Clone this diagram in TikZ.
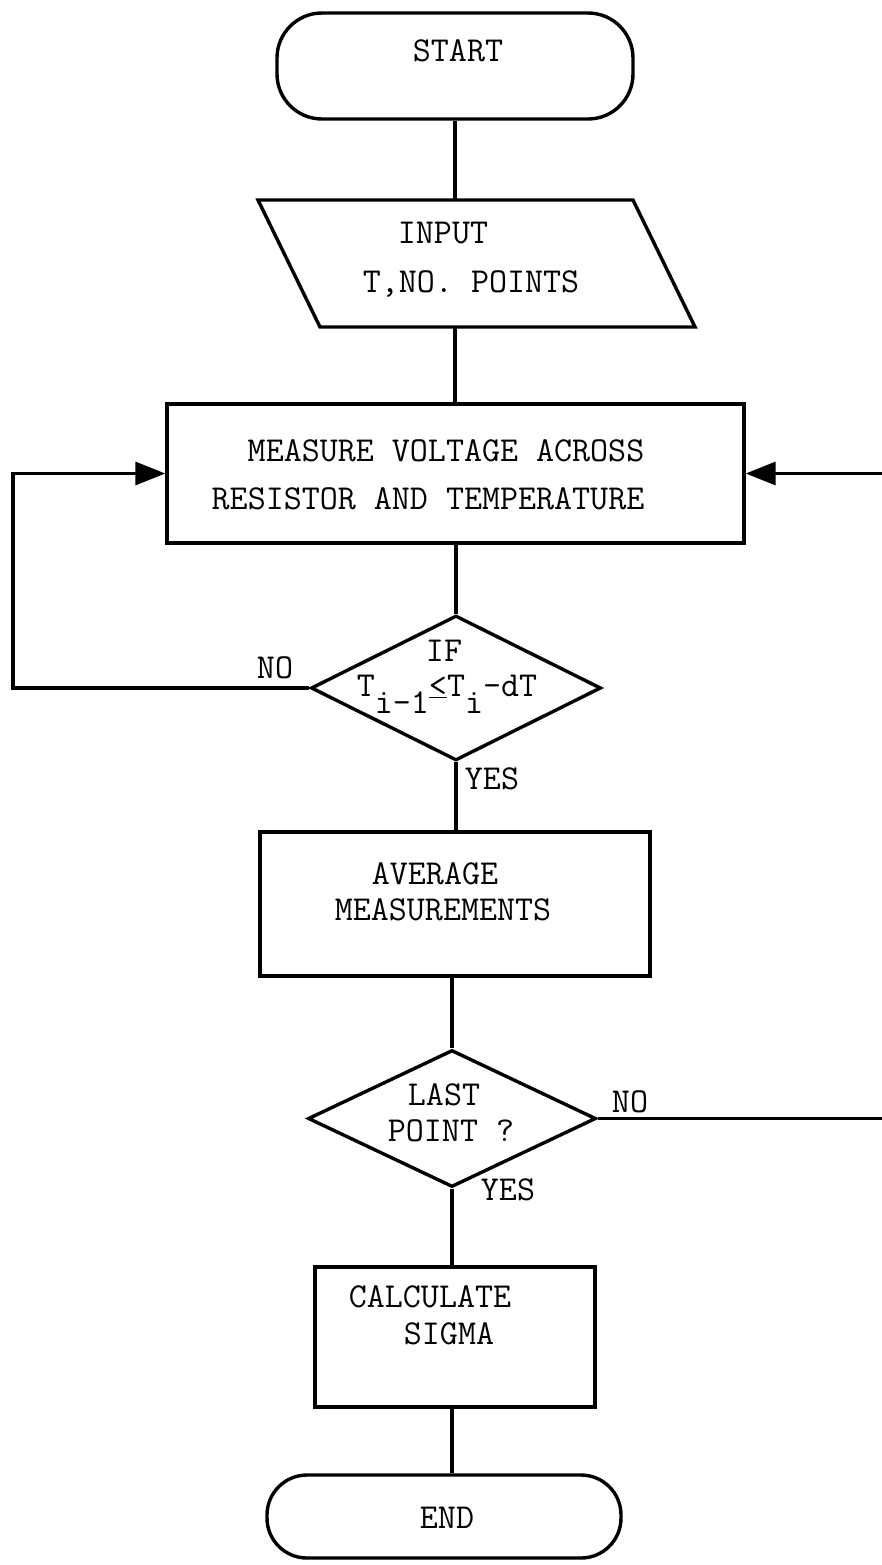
\documentclass[tikz,border=0pt]{standalone}
\usetikzlibrary{shapes.geometric,arrows.meta}
\newcommand\twfont{\fontsize{35}{35}\selectfont\ttfamily}
\tikzset{
  boxshape/.style={draw, rectangle, line width=3.4pt, inner sep=0pt},
  termshape/.style={draw, rectangle, line width=3.4pt, rounded corners=45pt, inner sep=0pt},
  decshape/.style={draw, diamond, line width=3.4pt, inner sep=0pt},
  lbl/.style={font=\twfont, inner sep=0pt, anchor=base, text height=22pt, text depth=2pt},
  conn/.style={line width=3.4pt},
  arr/.style={conn, -{Triangle[length=30pt,width=23pt]}}
}
\begin{document}
\begin{tikzpicture}[x=1pt,y=-1pt]
\fill[white] (0,0) rectangle (882,1565);
\useasboundingbox (0,0) rectangle (882,1565);

% START
\node[termshape, minimum width=356pt, minimum height=106pt] (start) at (455,66) {};
\node[lbl] (startT) at (458,62) {START};

% INPUT parallelogram
\draw[line width=3.4pt] (258,200) -- (633,200) -- (695,327) -- (320,327) -- cycle;
\coordinate (inN) at (455,200);
\coordinate (inS) at (455,327);
\node[lbl] (inT1) at (443,243) {INPUT};
\node[lbl] (inT2) at (471,292) {T,NO. POINTS};

% MEASURE
\node[boxshape, minimum width=577pt, minimum height=139pt] (meas) at (455.5,473.5) {};
\node[lbl] (m1) at (446,461) {MEASURE VOLTAGE ACROSS};
\node[lbl] (m2) at (428,509) {RESISTOR AND TEMPERATURE};

% decision 1
\node[decshape, minimum width=290pt, minimum height=145pt] (d1) at (456,688) {};
\node[lbl] (d1a) at (444,661) {IF};
\node[lbl] (d1b) at (447,696) {T\raisebox{-17pt}{i-1}\underline{<}T\raisebox{-17pt}{i}-dT};
\node[lbl] (no1) at (275,678) {NO};
\node[lbl] (yes1) at (492,789) {YES};

% AVERAGE
\node[boxshape, minimum width=390pt, minimum height=144pt] (avg) at (455,904) {};
\node[lbl] (a1) at (435,884) {AVERAGE};
\node[lbl] (a2) at (443,920) {MEASUREMENTS};

% decision 2
\node[decshape, minimum width=288pt, minimum height=137pt] (d2) at (452,1118.5) {};
\node[lbl] (d2a) at (444,1105) {LAST};
\node[lbl] (d2b) at (451,1141) {POINT ?};
\node[lbl] (no2) at (630,1112) {NO};
\node[lbl] (yes2) at (508,1200) {YES};

% CALCULATE
\node[boxshape, minimum width=280pt, minimum height=140pt] (calc) at (455,1337) {};
\node[lbl] (c1) at (430,1307) {CALCULATE};
\node[lbl] (c2) at (449,1344) {SIGMA};

% END
\node[termshape, rounded corners=40pt, minimum width=354pt, minimum height=83pt] (end) at (444,1516.5) {};
\node[lbl] (e1) at (447,1528) {END};

% connectors
\draw[conn] (start.south) -- (inN);
\draw[conn] (inS) -- (inS |- meas.north);
\draw[conn] (meas.south -| d1.north) -- (d1.north);
\draw[conn] (d1.south) -- (d1.south |- avg.north);
\draw[conn] (d2.north |- avg.south) -- (d2.north);
\draw[conn] (d2.south) -- (d2.south |- calc.north);
\draw[conn] (d2.south |- calc.south) -- (d2.south |- end.north);
\coordinate (lt) at (13,0);
\coordinate (rt) at (893,0);
\draw[arr] (d1.west) -- (d1.west -| lt) |- (meas.west);
\draw[arr] (d2.east) -- (d2.east -| rt) |- (meas.east);
\end{tikzpicture}
\end{document}
